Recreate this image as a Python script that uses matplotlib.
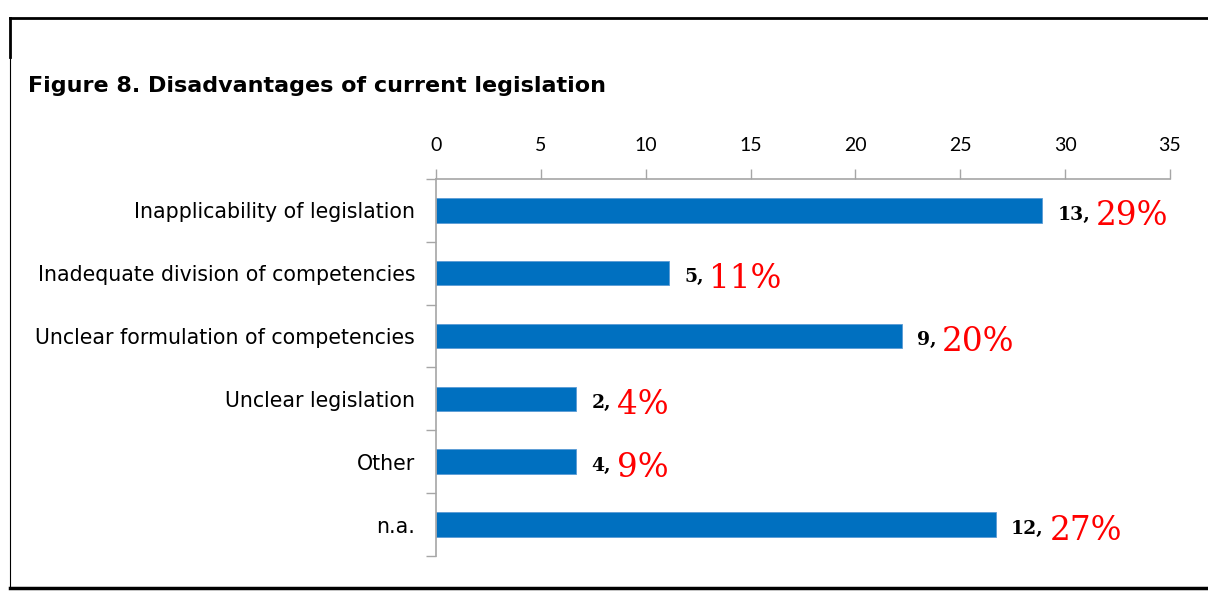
"""
Figure 8: disadvantages of current legislation, horizontal bar chart
"""
import matplotlib
matplotlib.use('Agg')
import matplotlib.pyplot as plt
from matplotlib.lines import Line2D
import numpy as np

categories = [
    'Inapplicability of legislation',
    'Inadequate division of competencies',
    'Unclear formulation of competencies',
    'Unclear legislation',
    'Other',
    'n.a.',
]
bar_values = [28.9, 11.1, 22.2, 6.7, 6.7, 26.7]
counts = [13, 5, 9, 2, 4, 12]
percents = ['29%', '11%', '20%', '4%', '9%', '27%']
x_ticks = [0, 5, 10, 15, 20, 25, 30, 35]

BLUE = '#0070C0'
GREY = '#A6A6A6'

fig = plt.figure(figsize=(12.08, 5.96), dpi=100)
ax = fig.add_axes([0.3609, 0.0671, 0.6076, 0.6326])

y = np.arange(len(categories))
ax.barh(y, bar_values, height=0.39, color=BLUE, edgecolor='#5B9BD5', linewidth=0.6)

ax.set_xlim(0, 35)
ax.set_ylim(len(categories) - 0.5, -0.5)

# value axis on top
ax.xaxis.tick_top()
ax.set_xticks(x_ticks)
ax.tick_params(axis='x', direction='out', length=7, width=1, color=GREY,
               labelsize=14, pad=11)
for lbl in ax.get_xticklabels():
    lbl.set_family(['Lato', 'DejaVu Sans'])

# category axis, ticks between categories
ax.set_yticks(y)
ax.set_yticklabels(categories, fontsize=14.8, family=['DejaVu Sans'])
ax.set_yticks(np.arange(-0.5, len(categories)), minor=True)
ax.tick_params(axis='y', which='major', length=0, pad=15)
ax.tick_params(axis='y', which='minor', length=7, width=1, color=GREY, direction='out')

for side in ['right', 'bottom']:
    ax.spines[side].set_visible(False)
for side in ['top', 'left']:
    ax.spines[side].set_color(GREY)
    ax.spines[side].set_linewidth(1.2)

# data labels: count in black, share in red
for yi, v, c, p in zip(y, bar_values, counts, percents):
    t = ax.annotate(f'{c},', xy=(v, yi), xytext=(11, -3), textcoords='offset points',
                    ha='left', va='center', fontsize=13.5, fontweight='bold',
                    family='DejaVu Serif', color='black')
    ax.annotate(p, xy=(1, 0.4), xycoords=t, xytext=(4, 0), textcoords='offset points',
                ha='left', va='center', fontsize=23.5, family='DejaVu Serif', color='#FF0000')

fig.text(0.0232, 0.855, 'Figure 8. Disadvantages of current legislation',
         fontsize=16, fontweight='bold', family=['DejaVu Sans'], ha='left', va='center')

# outer frame
fig.add_artist(Line2D([0.0083, 1.0], [0.970, 0.970], color='black', lw=2, transform=fig.transFigure))
fig.add_artist(Line2D([0.0083, 0.0083], [0.970, 0.905], color='black', lw=2, transform=fig.transFigure))
fig.add_artist(Line2D([0.0083, 0.0083], [0.905, 0.013], color='black', lw=0.8, transform=fig.transFigure))
fig.add_artist(Line2D([0.0083, 1.0], [0.013, 0.013], color='black', lw=2.5, transform=fig.transFigure))

plt.savefig('out.png', dpi=100)
